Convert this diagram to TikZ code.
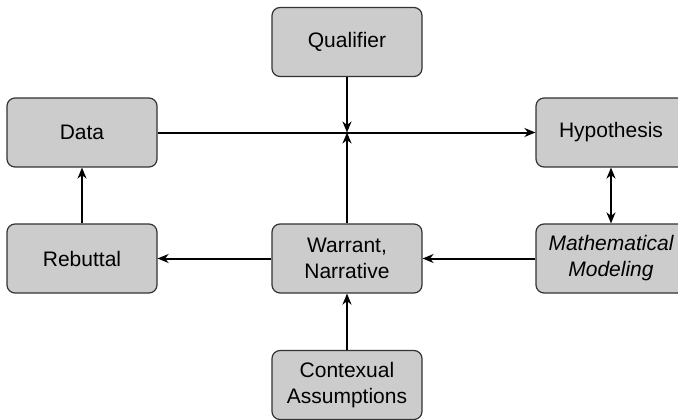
\documentclass[tikz,border=0pt]{standalone}
\usepackage{fontspec}
\setmainfont{Liberation Sans}
\usetikzlibrary{arrows.meta}

\begin{document}
\begin{tikzpicture}[x=1pt, y=-1pt,
  box/.style={draw=black!80, line width=1.2pt, fill=black!20, rounded corners=8pt,
    minimum width=150pt, minimum height=69pt, align=center,
    font=\fontsize{21}{26}\selectfont},
  link/.style={line width=2pt, -{Stealth[length=11pt, width=9pt, inset=3.5pt]}}]
\useasboundingbox (0,0) rectangle (678,420);
\clip (0,0) rectangle (678,420);

\node[box] at (347,42) (qual) {Qualifier};
\node[box] at (82,132.5) (data) {Data};
\node[box] at (611,132.5) (hyp) {Hypothesis};
\node[box] at (82,258.5) (rebut) {Rebuttal};
\node[box] at (347,258.5) (warrant) {Warrant,\\Narrative};
\node[box] at (611,258.5) (model) {\itshape Mathematical\\\itshape Modeling};
\node[box] at (347,385) (context) {Contexual\\Assumptions};
\coordinate (cross) at (347,132.5);

\draw[link] (data) -- (hyp);
\draw[link] (qual) -- (cross);
\draw[link] (warrant) -- (cross);
\draw[link, {Stealth[length=11pt, width=9pt, inset=3.5pt]}-{Stealth[length=11pt, width=9pt, inset=3.5pt]}] (hyp) -- (model);
\draw[link] (model) -- (warrant);
\draw[link] (warrant) -- (rebut);
\draw[link] (rebut) -- (data);
\draw[link] (context) -- (warrant);

\end{tikzpicture}
\end{document}
